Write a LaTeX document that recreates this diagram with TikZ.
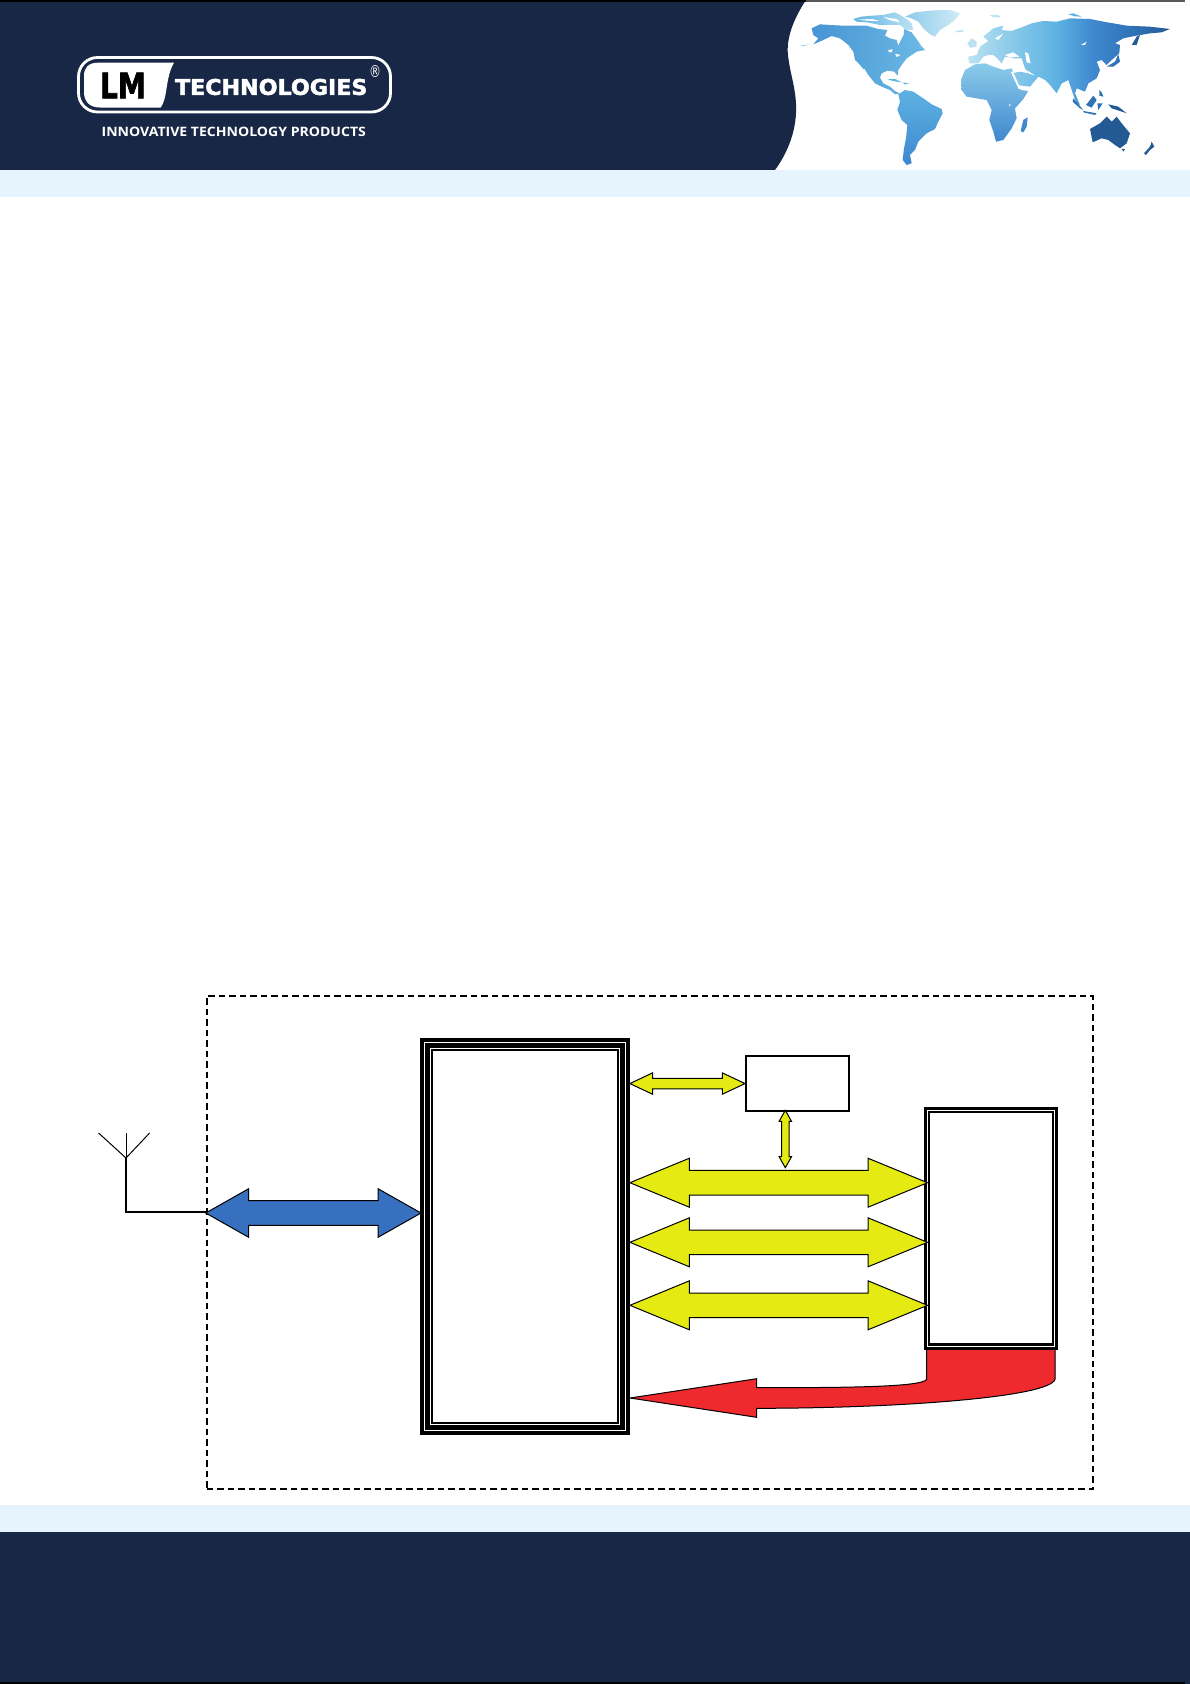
\documentclass[tikz,border=0pt]{standalone}
\usepackage{fontspec}
\usepackage{graphicx}
\setmainfont{Open Sans}
\newfontfamily\logofont[BoldFeatures={FakeBold=2.2}]{DejaVu Sans}
\usetikzlibrary{calc}
\definecolor{navy}{HTML}{182745}
\definecolor{pale}{HTML}{E6F5FD}
\definecolor{fatyellow}{HTML}{E5EA12}
\definecolor{fatblue}{HTML}{3770BF}
\definecolor{fatred}{HTML}{EE2A2E}
\definecolor{eA}{HTML}{BCE2F2}\definecolor{eB}{HTML}{8CCBEA}\definecolor{eC}{HTML}{5DB2E2}
\definecolor{eD}{HTML}{3F87CF}\definecolor{eE}{HTML}{2F72B5}\definecolor{eF}{HTML}{235A94}
\pgfdeclarehorizontalshading{eurasia}{100bp}{color(0bp)=(eA);color(25bp)=(eA);color(35bp)=(eB);color(47bp)=(eC);color(56bp)=(eD);color(66bp)=(eE);color(75bp)=(eF);color(100bp)=(eF)}
\tikzset{
  fatarrow/.style={draw=black,line width=1pt,line join=miter,miter limit=10},
  plainbox/.style={draw=black,fill=white,line width=1.5pt,inner sep=0pt},
  blackbox/.style={fill=black,draw=none,inner sep=0pt},
  whitebox/.style={fill=white,draw=none,inner sep=0pt},
  boundary/.style={draw=black,line width=2pt,dash pattern=on 6.5pt off 4pt},
  feed/.style={draw=black,line width=1.7pt},
  arm/.style={draw=black,line width=1pt},
  isle/.style={fill=eE,draw=none},
}
% #1 left end, #2 right end, #3 head length, #4 half shaft, #5 half head, #6 colour
\newcommand{\harrow}[6]{\draw[fatarrow,fill=#6] let \p1=(#1),\p2=(#2) in
  (\p1) -- (\x1+#3pt,\y1+#5pt) -- (\x1+#3pt,\y1+#4pt) -- (\x2-#3pt,\y2+#4pt) -- (\x2-#3pt,\y2+#5pt)
  -- (\p2) -- (\x2-#3pt,\y2-#5pt) -- (\x2-#3pt,\y2-#4pt) -- (\x1+#3pt,\y1-#4pt) -- (\x1+#3pt,\y1-#5pt) -- cycle;}
% #1 upper end, #2 lower end
\newcommand{\varrow}[6]{\draw[fatarrow,fill=#6] let \p1=(#1),\p2=(#2) in
  (\p1) -- (\x1+#5pt,\y1-#3pt) -- (\x1+#4pt,\y1-#3pt) -- (\x2+#4pt,\y2+#3pt) -- (\x2+#5pt,\y2+#3pt)
  -- (\p2) -- (\x2-#5pt,\y2+#3pt) -- (\x2-#4pt,\y2+#3pt) -- (\x1-#4pt,\y1-#3pt) -- (\x1-#5pt,\y1-#3pt) -- cycle;}
\begin{document}
\begin{tikzpicture}[x=1pt,y=-1pt]
\useasboundingbox (0,0) rectangle (1190,1684);
\fill[white] (0,0) rectangle (1190,1684);
% header
\fill[navy] (0,0) -- (806,0) .. controls (794,18) and (786,38) .. (788,55)
  .. controls (790,75) and (797,90) .. (796,113) .. controls (795,135) and (786,155) .. (775,170) -- (0,170) -- cycle;
\fill[pale] (0,170) rectangle (1190,197);
\fill[black] (0,0) rectangle (806,2);
\fill[black!65] (806,0) rectangle (1185,1.5);
% footer
\fill[pale] (0,1505) rectangle (1190,1532);
\fill[navy] (0,1532) rectangle (1190,1684);
\fill[black] (0,1682) rectangle (1185,1684);
% logo
\draw[white,line width=2.8pt,rounded corners=19pt] (78.5,57.5) rectangle (390.5,112);
\fill[white] (174,62.7) -- (98,62.7) .. controls (88,62.7) and (84,68) .. (84,76) -- (84,92)
  .. controls (84,102) and (90,107.5) .. (100,107.5) -- (160.7,107.5)
  .. controls (168,98) and (165,78) .. (174,62.7) -- cycle;
\node[inner sep=0pt,text=black] (logolm) at (123,85.5) {\resizebox{46pt}{25.6pt}{\logofont\bfseries LM}};
\node[inner sep=0pt,text=white] (logoname) at (271.2,87) {\resizebox{192.3pt}{16pt}{\logofont\bfseries TECHNOLOGIES}};
\node[inner sep=0pt,text=white] (logoreg) at (375,71.7) {\resizebox{12pt}{12pt}{\logofont ®}};
\node[inner sep=0pt,text=white] (logotag) at (233.8,132) {\resizebox{264.3pt}{9.4pt}{\bfseries INNOVATIVE TECHNOLOGY PRODUCTS}};
% world map: west
\begin{scope}[shift={(800,5)},x=0.3333pt,y=-0.3333pt]
  \shade[left color=eD!70!eC,right color=eC!70!eB] (35,70) -- (60,58) -- (90,60) -- (130,62) -- (165,62) -- (200,62) -- (235,72) -- (262,75) -- (255,92) -- (270,100) -- (290,105) -- (295,122) -- (303,105) -- (312,88) -- (312,72) -- (335,82) -- (352,105) -- (365,125) -- (375,135) -- (350,140) -- (335,150) -- (320,160) -- (305,180) -- (295,195) -- (293,212) -- (283,200) -- (262,197) -- (245,205) -- (240,218) -- (250,235) -- (270,245) -- (285,258) -- (300,265) -- (285,268) -- (270,255) -- (245,245) -- (225,235) -- (205,210) -- (180,180) -- (165,165) -- (160,140) -- (145,120) -- (120,100) -- (95,93) -- (70,105) -- (40,118) -- (55,100) -- (40,90) -- cycle;
  \shade[left color=eC,right color=eA] (160,42) -- (185,35) -- (215,32) -- (250,30) -- (285,22) -- (300,30) -- (320,42) -- (335,55) -- (340,75) -- (320,75) -- (300,60) -- (270,60) -- (240,60) -- (200,52) -- (170,50) -- cycle;
  \fill[white] (170,44) -- (215,42) -- (240,48) -- (200,47) -- cycle;
  \fill[white] (250,36) -- (290,42) -- (300,52) -- (270,46) -- cycle;
  \shade[left color=eB,right color=eA!70!white] (315,35) -- (345,22) -- (400,16) -- (450,15) -- (480,25) -- (465,45) -- (445,60) -- (420,75) -- (405,95) -- (390,88) -- (370,70) -- (355,50) -- (335,40) -- cycle;
  \fill[white] (265,135) -- (278,133) -- (275,142) -- (266,141) -- cycle;
  \fill[white] (285,146) -- (302,150) -- (290,156) -- cycle;
  \fill[white] (190,192) -- (194,192) -- (208,218) -- (204,218) -- cycle;
  \fill[eA] (465,78) -- (490,75) -- (490,80) -- (470,82) -- cycle;
  \fill[eC] (262,223) -- (285,222) -- (305,232) -- (280,228) -- cycle;
  \fill[eC] (310,232) -- (328,236) -- (312,238) -- cycle;
  \fill[eB] (2,122) -- (30,118) -- (8,124) -- cycle;
  \shade[top color=eC,bottom color=eD] (295,268) -- (315,255) -- (340,260) -- (370,280) -- (395,298) -- (425,312) -- (428,325) -- (415,350) -- (405,372) -- (380,385) -- (355,410) -- (345,435) -- (330,450) -- (335,475) -- (320,480) -- (308,465) -- (312,430) -- (318,400) -- (322,360) -- (305,345) -- (292,315) -- (300,290) -- cycle;
\end{scope}
% world map: east
\begin{scope}[shift={(960,5)},x=0.3333pt,y=-0.3333pt]
  \shade[shading=eurasia] (28,175) -- (25,155) -- (50,150) -- (60,125) -- (85,108) -- (70,95) -- (100,70) -- (130,62) -- (125,75) -- (155,78) -- (190,65) -- (215,55) -- (250,48) -- (290,50) -- (330,40) -- (390,42) -- (430,50) -- (500,62) -- (570,65) -- (630,72) -- (605,82) -- (570,85) -- (530,92) -- (490,100) -- (465,115) -- (480,120) -- (478,145) -- (455,165) -- (440,180) -- (425,165) -- (410,170) -- (420,195) -- (410,220) -- (385,235) -- (375,260) -- (350,250) -- (345,265) -- (360,300) -- (350,295) -- (340,270) -- (325,225) -- (305,235) -- (290,265) -- (270,240) -- (255,225) -- (235,215) -- (210,245) -- (170,240) -- (155,205) -- (180,200) -- (205,205) -- (195,190) -- (185,160) -- (160,160) -- (135,155) -- (125,175) -- (112,160) -- (100,150) -- (85,150) -- (70,155) -- (55,175) -- cycle;
  \fill[white] (135,150) -- (160,142) -- (178,155) -- (150,158) -- cycle;
  \fill[white] (195,142) -- (205,145) -- (212,175) -- (200,172) -- cycle;
  \fill[white] (200,195) -- (225,212) -- (205,205) -- cycle;
  \fill[white] (105,100) -- (130,85) -- (115,105) -- cycle;
  \fill[white] (362,120) -- (380,110) -- (375,120) -- cycle;
  \fill[eA] (22,115) -- (35,100) -- (50,110) -- (50,125) -- (30,128) -- cycle;
  \fill[eA] (88,30) -- (115,30) -- (122,38) -- (100,36) -- cycle;
  \fill[eC] (325,28) -- (340,25) -- (365,35) -- (345,34) -- cycle;
  \shade[top color=eB,bottom color=eD] (3,225) -- (15,195) -- (45,178) -- (75,175) -- (100,185) -- (130,195) -- (155,190) -- (165,220) -- (182,255) -- (205,258) -- (190,282) -- (165,310) -- (170,340) -- (155,370) -- (130,405) -- (108,410) -- (100,380) -- (88,345) -- (95,315) -- (80,285) -- (50,280) -- (20,275) -- (5,255) -- cycle;
  \fill[white] (152,200) -- (160,203) -- (182,252) -- (176,252) -- cycle;
  \fill[white] (146,302) -- (152,295) -- (150,303) -- cycle;
  \fill[eD] (190,345) -- (203,337) -- (200,365) -- (190,382) -- (182,378) -- cycle;
  \fill[isle] (440,185) -- (465,170) -- (475,148) -- (480,170) -- (460,185) -- cycle;
  \fill[eF] (515,120) -- (530,95) -- (540,90) -- (530,120) -- cycle;
  \fill[isle] (340,280) -- (370,315) -- (360,310) -- (338,290) -- cycle;
  \fill[isle] (378,300) -- (400,272) -- (410,285) -- (395,308) -- cycle;
  \fill[isle] (370,318) -- (410,325) -- (405,330) -- (370,322) -- cycle;
  \fill[isle] (418,255) -- (425,262) -- (430,275) -- (418,272) -- cycle;
  \fill[isle] (412,295) -- (428,295) -- (415,315) -- cycle;
  \fill[eF] (445,298) -- (475,305) -- (500,325) -- (480,318) -- (455,310) -- cycle;
  \fill[eF] (390,372) -- (420,355) -- (440,335) -- (455,350) -- (470,335) -- (485,355) -- (510,385) -- (500,415) -- (480,430) -- (465,420) -- (445,405) -- (425,400) -- (398,412) -- cycle;
  \fill[eF] (485,432) -- (495,432) -- (490,440) -- cycle;
  \fill[eF] (552,445) -- (570,425) -- (575,410) -- (583,425) -- (570,435) -- (558,450) -- cycle;
\end{scope}
% diagram
\node[boundary,fill=none,inner sep=0pt,minimum width=886pt,minimum height=493.5pt,anchor=north west] (module) at (205.7,994.7) {};
\node[blackbox,minimum width=209.5pt,minimum height=396.5pt,anchor=north west] (main) at (420,1038) {};
\node[whitebox,minimum width=201.5pt,minimum height=388.5pt] (mainA) at (main.center) {};
\node[blackbox,minimum width=199.7pt,minimum height=386.7pt] (mainB) at (main.center) {};
\node[whitebox,minimum width=190.5pt,minimum height=377.5pt] (mainC) at (main.center) {};
\node[blackbox,minimum width=188.7pt,minimum height=375.7pt] (mainD) at (main.center) {};
\node[whitebox,minimum width=184pt,minimum height=371pt] (mainE) at (main.center) {};
\node[plainbox,minimum width=103pt,minimum height=55pt,anchor=north west] (mem) at (745,1055.3) {};
% red arrow under the right box
\coordinate (redtip) at (630,1398);
\draw[fatarrow,fill=fatred] (redtip) -- (756.7,1378.7) -- (756.7,1387.7)
  .. controls (850,1387.7) and (922,1387) .. (926.7,1379.3) -- (926.7,1349) -- (1055,1349) -- (1055,1379.3)
  .. controls (1050,1397) and (900,1408.3) .. (756.7,1408.3) -- (756.7,1417.3) -- cycle;
\node[blackbox,minimum width=134.5pt,minimum height=243pt,anchor=north west] (periph) at (923.5,1106.5) {};
\node[whitebox,minimum width=128.5pt,minimum height=237pt] (periphA) at (periph.center) {};
\node[blackbox,minimum width=126.5pt,minimum height=235pt] (periphB) at (periph.center) {};
\node[whitebox,minimum width=121.5pt,minimum height=230pt] (periphC) at (periph.center) {};
% arrows
\coordinate (blueL) at (module.west |- 0,1213);
\coordinate (blueR) at ($(main.west |- 0,1213)+(1,0)$);
\harrow{blueL}{blueR}{43}{12.3}{24.3}{fatblue}
\coordinate (memL) at (main.east |- mem.west);
\harrow{memL}{mem.west}{22.7}{5.3}{10.7}{fatyellow}
\coordinate (busA) at (main.east |- 0,1182.7);
\coordinate (busAr) at (periphB.west |- 0,1182.7);
\coordinate (busB) at (main.east |- 0,1242.3);
\coordinate (busBr) at (periphB.west |- 0,1242.3);
\coordinate (busC) at (main.east |- 0,1305.3);
\coordinate (busCr) at (periphB.west |- 0,1305.3);
\harrow{busA}{busAr}{59.5}{12.3}{24.5}{fatyellow}
\harrow{busB}{busBr}{59.5}{12.3}{24.5}{fatyellow}
\harrow{busC}{busCr}{59.5}{12.3}{24.5}{fatyellow}
\coordinate (memS) at (785.3,1110.3);
\coordinate (memT) at (785.3,1167.7);
\varrow{memS}{memT}{11}{3.7}{6.2}{fatyellow}
% antenna
\coordinate (antTop) at (126,1133);
\coordinate (antJoin) at (126,1158);
\coordinate (antArmL) at (98.6,1133);
\coordinate (antArmR) at (149.6,1133);
\coordinate (antCorner) at (126,1212);
\draw[arm] (antTop) -- (antJoin);
\draw[arm] (antArmL) -- (antJoin) -- (antArmR);
\draw[feed] (antJoin) -- (antCorner) -- (module.west |- antCorner);
\end{tikzpicture}
\end{document}
